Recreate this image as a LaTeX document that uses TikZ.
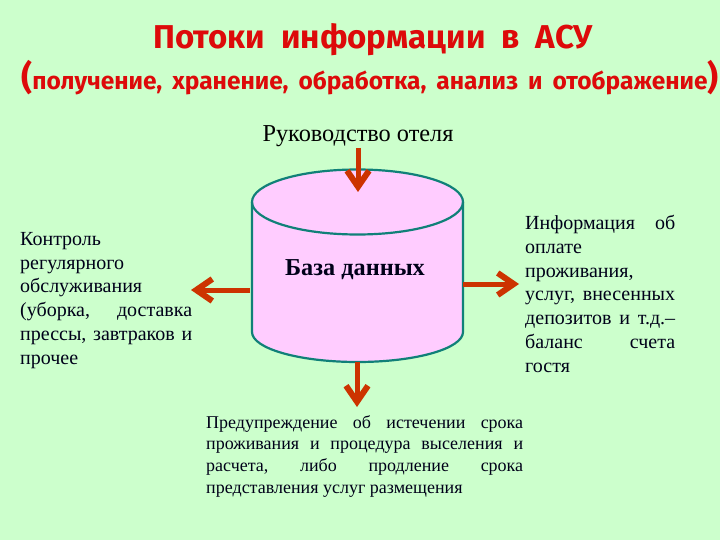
\documentclass[tikz,border=0pt]{standalone}
\usepackage{fontspec}
\setmainfont{Liberation Serif}
\newfontfamily\titlefont{Fira Sans}
\usetikzlibrary{arrows.meta}
\definecolor{bgc}{HTML}{CCFFCC}
\definecolor{pinkc}{HTML}{FFCCFF}
\definecolor{tealc}{HTML}{108078}
\definecolor{arrc}{HTML}{CC3300}
\definecolor{titlec}{HTML}{DD0A0A}
\newcommand{\wordgap}[1]{\hspace{#1}}
\tikzset{
  flowarrow/.style={draw=arrc,line width=5pt,-{Straight Barb[length=16pt,width=22pt,line width=6pt]}},
  dbline/.style={draw=tealc,line width=2.2pt},
  bodytext/.style={inner sep=0pt,anchor=north west,align=justify,font=\fontsize{20}{23.8}\selectfont,text=black!90!blue},
  titletext/.style={text=titlec,inner sep=0pt}
}
\begin{document}
\begin{tikzpicture}[x=1pt,y=-1pt]
\useasboundingbox (0,0) rectangle (720,540);
\fill[bgc] (0,0) rectangle (720,540);
\node[titletext,font=\titlefont\bfseries\fontsize{33}{36}\selectfont] (t1) at (373,40) {Потоки\wordgap{16pt}информации\wordgap{16pt}в\wordgap{16pt}АСУ};
\node[titletext,font=\titlefont\bfseries\fontsize{24.5}{27}\selectfont] (t2) at (370,78) {{\fontsize{34}{36}\selectfont(}получение,\wordgap{10pt}хранение,\wordgap{10pt}обработка,\wordgap{10pt}анализ\wordgap{10pt}и\wordgap{10pt}отображение{\fontsize{34}{36}\selectfont)}};
\node[inner sep=0pt,font=\fontsize{24.3}{26}\selectfont] (boss) at (358,136) {Руководство отеля};
% cylinder
\coordinate (dbtop) at (358,192);
\coordinate (dbleft) at (250,290);
\coordinate (dbright) at (463,284);
\coordinate (dbbottom) at (357,362);
\coordinate (topstart) at (358,148);
\coordinate (leftend) at (191,290);
\coordinate (rightend) at (519,284);
\coordinate (bottomend) at (357,407);
\path[dbline,fill=pinkc] (252,202) arc[start angle=180,end angle=360,x radius=105.5,y radius=32.5] -- (463,332)
  arc[start angle=0,end angle=180,x radius=105.5,y radius=30] -- cycle;
\path[dbline] (252,202) arc[start angle=180,end angle=360,x radius=105.5,y radius=-32.5];
\node[inner sep=0pt,font=\bfseries\fontsize{24.3}{26}\selectfont,text=black!90!blue] (db) at (355,270) {База данных};
\draw[flowarrow] (topstart) -- (dbtop);
\draw[flowarrow] (dbleft) -- (leftend);
\draw[flowarrow] (dbright) -- (rightend);
\draw[flowarrow] (dbbottom) -- (bottomend);
\node[bodytext,text width=172pt] (ctl) at (20,232) {Контроль\\регулярного\\обслуживания\\(уборка,\hfill доставка\\прессы,\hfill завтраков\hfill и\\прочее};
\node[bodytext,text width=150pt] (info) at (525,215) {Информация\hfill об\\оплате\\проживания,\\услуг,\hfill внесенных\\депозитов\hfill и\hfill т.д.--\\баланс\hfill счета\\гостя};
\node[bodytext,text width=317pt,font=\fontsize{18}{21.9}\selectfont] (warn) at (206,415) {Предупреждение\hfill об\hfill истечении\hfill срока\\проживания\hfill и\hfill процедура\hfill выселения\hfill и\\расчета,\hfill либо\hfill продление\hfill срока\\представления услуг размещения};
\end{tikzpicture}
\end{document}
